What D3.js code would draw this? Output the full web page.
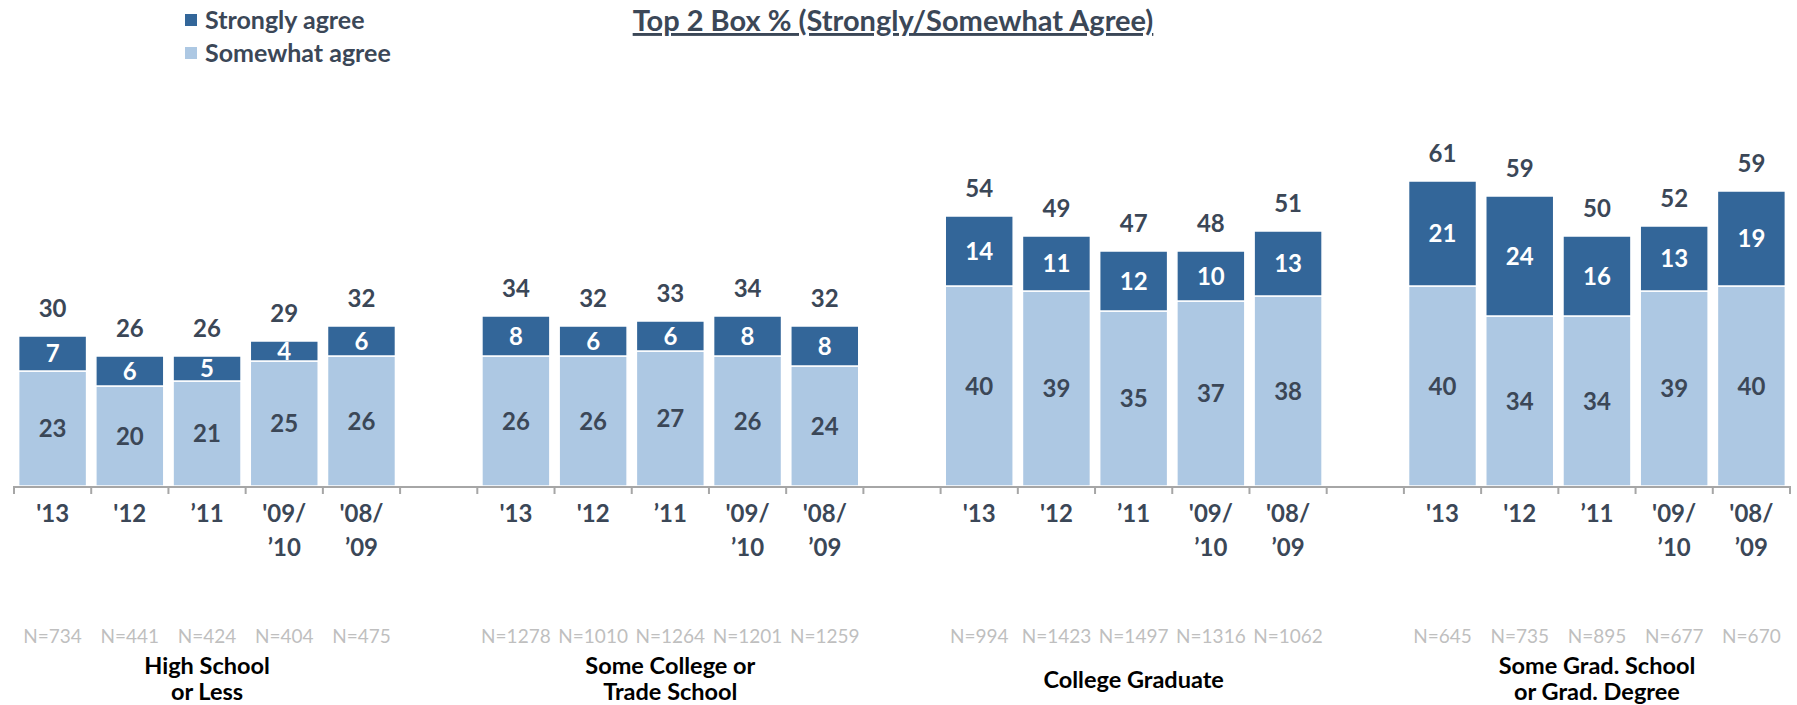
<!DOCTYPE html>
<html>
<head>
<meta charset="utf-8">
<script src="https://cdn.jsdelivr.net/npm/d3@7"></script>
<style>
  html, body { margin: 0; padding: 0; background: #fff; }
  svg { display: block; font-family: Lato, "Open Sans", sans-serif; }
</style>
</head>
<body>
<svg id="chart" width="1797" height="705"></svg>
<script>
// ---- data ----
const groups = ["High School|or Less", "Some College or|Trade School", "College Graduate", "Some Grad. School|or Grad. Degree"];
const years = ["'13", "'12", "\u201911", "'09/|\u201910", "'08/|\u201909"];
const stronglyAgree = [[7, 6, 5, 4, 6], [8, 6, 6, 8, 8], [14, 11, 12, 10, 13], [21, 24, 16, 13, 19]];
const somewhatAgree = [[23, 20, 21, 25, 26], [26, 26, 27, 26, 24], [40, 39, 35, 37, 38], [40, 34, 34, 39, 40]];
const totals = [[30, 26, 26, 29, 32], [34, 32, 33, 34, 32], [54, 49, 47, 48, 51], [61, 59, 50, 52, 59]];
const sampleSizes = [[734, 441, 424, 404, 475], [1278, 1010, 1264, 1201, 1259], [994, 1423, 1497, 1316, 1062], [645, 735, 895, 677, 670]];
const seriesNames = ["Strongly agree", "Somewhat agree"];
const title = "Top 2 Box % (Strongly/Somewhat Agree)";

// ---- styles ----
const colDark = "#336699";
const colLight = "#adc8e3";
const textCol = "#3b4757";
const axisCol = "#a6a6a6";

const svg = d3.select("#chart");

// build slot list (groups separated by one empty slot)
const slots = [];
const rows = [];
groups.forEach((g, gi) => {
  if (gi > 0) slots.push("gap" + gi);
  years.forEach((y, yi) => {
    const key = gi + "_" + yi;
    slots.push(key);
    rows.push({ key, gi, yi, year: y, sa: stronglyAgree[gi][yi], wa: somewhatAgree[gi][yi], total: totals[gi][yi], n: sampleSizes[gi][yi] });
  });
});

const pIn = 0.12, pOut = 0.06;
const x = d3.scaleBand().domain(slots).range([14, 1790]).paddingInner(pIn).paddingOuter(pOut);
const y = d3.scaleLinear().domain([0, 80]).range([486, 86]);
const step = x.step();
const bw = x.bandwidth();
const slotStart = k => x(k) - step * pOut;

// ---- stacked bars ----
const stack = d3.stack().keys(["wa", "sa"]);
const series = stack(rows);
const colorOf = { wa: colLight, sa: colDark };

const barG = svg.append("g");
series.forEach(s => {
  barG.selectAll(null).data(s).enter().append("rect")
    .attr("x", d => x(d.data.key))
    .attr("width", bw)
    .attr("y", d => y(d[1]))
    .attr("height", d => y(d[0]) - y(d[1]))
    .attr("fill", colorOf[s.key])
    .attr("stroke", "#fff")
    .attr("stroke-width", 1.5);

  barG.selectAll(null).data(s).enter().append("text")
    .attr("x", d => x(d.data.key) + bw / 2)
    .attr("y", d => (y(d[0]) + y(d[1])) / 2)
    .attr("dy", "0.36em")
    .attr("text-anchor", "middle")
    .attr("font-size", 24)
    .attr("font-weight", 700)
    .attr("fill", s.key === "sa" ? "#fff" : textCol)
    .text(d => d.data[s.key]);
});

// totals above bars
svg.append("g").selectAll("text").data(rows).enter().append("text")
  .attr("x", d => x(d.key) + bw / 2)
  .attr("y", d => y(d.sa + d.wa) - 19)
  .attr("text-anchor", "middle")
  .attr("font-size", 24)
  .attr("font-weight", 700)
  .attr("fill", textCol)
  .text(d => d.total);

// ---- axis ----
const axisG = svg.append("g");
const x0 = x.range()[0], x1 = x.range()[1];
axisG.append("line")
  .attr("x1", x0).attr("x2", x1).attr("y1", y(0) + 1).attr("y2", y(0) + 1)
  .attr("stroke", axisCol).attr("stroke-width", 2);
const tickXs = slots.map(slotStart).concat([x1]);
axisG.selectAll("line.tick").data(tickXs).enter().append("line")
  .attr("class", "tick")
  .attr("x1", d => d).attr("x2", d => d)
  .attr("y1", y(0)).attr("y2", y(0) + 8)
  .attr("stroke", axisCol).attr("stroke-width", 2);

// category (year) labels
const catG = svg.append("g");
rows.forEach(d => {
  const t = catG.append("text")
    .attr("x", x(d.key) + bw / 2)
    .attr("y", 522)
    .attr("text-anchor", "middle")
    .attr("font-size", 24)
    .attr("font-weight", 700)
    .attr("fill", textCol);
  d.year.split("|").forEach((line, i) => {
    t.append("tspan").attr("x", x(d.key) + bw / 2).attr("dy", i === 0 ? 0 : 34).text(line);
  });
});

// N labels
svg.append("g").selectAll("text").data(rows).enter().append("text")
  .attr("x", d => x(d.key) + bw / 2)
  .attr("y", 643)
  .attr("text-anchor", "middle")
  .attr("font-size", 19)
  .attr("fill", "#bfbfbf")
  .text(d => "N=" + d.n);

// group labels
groups.forEach((g, gi) => {
  const first = x(gi + "_0"), last = x(gi + "_" + (years.length - 1)) + bw;
  const cx = (first + last) / 2;
  const lines = g.split("|");
  lines.forEach((line, i) => {
    svg.append("text")
      .attr("x", cx)
      .attr("y", lines.length === 1 ? 688 : 674 + i * 26)
      .attr("text-anchor", "middle")
      .attr("font-size", 23.5)
      .attr("font-weight", 700)
      .attr("fill", "#000")
      .text(line);
  });
});

// ---- title ----
svg.append("text")
  .attr("x", 893).attr("y", 31)
  .attr("text-anchor", "middle")
  .attr("font-size", 29)
  .attr("font-weight", 700)
  .attr("fill", textCol)
  .style("text-decoration", "underline")
  .text(title);

// ---- legend ----
const legend = svg.append("g").attr("transform", "translate(185,0)");
[colDark, colLight].forEach((c, i) => {
  const cy = [20, 53][i];
  legend.append("rect").attr("x", 0).attr("y", cy - 6).attr("width", 12).attr("height", 12).attr("fill", c);
  legend.append("text").attr("x", 20).attr("y", cy).attr("dy", "0.35em")
    .attr("font-size", 25).attr("font-weight", 700).attr("fill", textCol)
    .text(seriesNames[i]);
});
</script>
</body>
</html>
